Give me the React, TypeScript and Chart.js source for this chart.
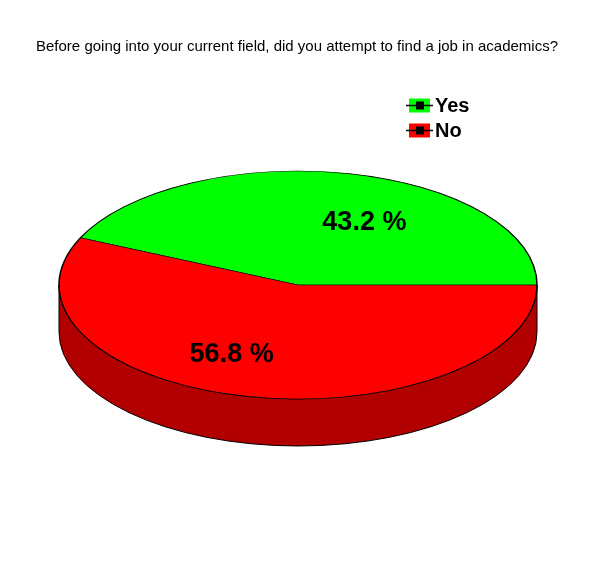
import React, { useEffect, useRef } from "react";
import { Chart, registerables } from "chart.js";

Chart.register(...registerables);

const TITLE = "Before going into your current field, did you attempt to find a job in academics?";
const LABELS = ["Yes", "No"];
const VALUES = [43.2, 56.8];
const TOP_COLORS = ["#00FF00", "#FF0000"];
const SIDE_COLORS = ["#00B200", "#B20000"];

const W = 596;
const H = 572;
const RX = 239;
const RY = 114;
const DEPTH = 47;

const pie3dPlugin = {
  id: "pie3d",
  beforeDatasetsDraw(chart: any) {
    const ctx = chart.ctx as CanvasRenderingContext2D;
    const meta = chart.getDatasetMeta(0);
    const arcs = meta.data;
    if (!arcs.length) return;
    const cx = arcs[0].x;
    const cy = arcs[0].y;
    // draw side walls
    arcs.forEach((arc: any, i: number) => {
      const s = arc.startAngle;
      const e = arc.endAngle;
      for (const k of [-2, 0, 2]) {
        const lo = Math.max(s, k * Math.PI);
        const hi = Math.min(e, k * Math.PI + Math.PI);
        if (hi > lo) {
          ctx.save();
          ctx.beginPath();
          ctx.ellipse(cx, cy, RX, RY, 0, lo, hi, false);
          ctx.lineTo(cx + RX * Math.cos(hi), cy + RY * Math.sin(hi) + DEPTH);
          ctx.ellipse(cx, cy + DEPTH, RX, RY, 0, hi, lo, true);
          ctx.closePath();
          ctx.fillStyle = SIDE_COLORS[i];
          ctx.fill();
          ctx.strokeStyle = "#000";
          ctx.lineWidth = 1;
          ctx.stroke();
          ctx.restore();
        }
      }
    });
    ctx.save();
    ctx.translate(cx, cy);
    ctx.scale(1, RY / RX);
    ctx.translate(-cx, -cy);
  },
  afterDatasetsDraw(chart: any) {
    const ctx = chart.ctx as CanvasRenderingContext2D;
    const meta = chart.getDatasetMeta(0);
    const arcs = meta.data;
    if (!arcs.length) return;
    ctx.restore();
    const cx = arcs[0].x;
    const cy = arcs[0].y;
    const total = VALUES.reduce((a, b) => a + b, 0);
    // percentage labels
    ctx.save();
    ctx.fillStyle = "#000";
    ctx.font = "bold 27px 'Liberation Sans', Arial, sans-serif";
    ctx.textAlign = "center";
    ctx.textBaseline = "middle";
    arcs.forEach((arc: any, i: number) => {
      const mid = (arc.startAngle + arc.endAngle) / 2;
      const x = cx + Math.cos(mid) * RX * 1.31;
      const y = cy + Math.sin(mid) * RY * 0.595 + 3.5;
      ctx.fillText(((VALUES[i] / total) * 100).toFixed(1) + " %", x, y);
    });
    ctx.restore();
  },
  afterDraw(chart: any) {
    const ctx = chart.ctx as CanvasRenderingContext2D;
    ctx.save();
    // title
    ctx.fillStyle = "#000";
    ctx.font = "15px 'Liberation Sans', Arial, sans-serif";
    ctx.textAlign = "center";
    ctx.textBaseline = "middle";
    ctx.fillText(TITLE, 297, 47);
    // legend
    ctx.font = "bold 20px 'Liberation Sans', Arial, sans-serif";
    ctx.textAlign = "left";
    LABELS.forEach((lab, i) => {
      const y = 105.5 + i * 25;
      ctx.fillStyle = TOP_COLORS[i];
      ctx.fillRect(409, y - 7, 21, 14);
      ctx.strokeStyle = "#000";
      ctx.lineWidth = 1.5;
      ctx.beginPath();
      ctx.moveTo(406, y);
      ctx.lineTo(433, y);
      ctx.stroke();
      ctx.fillStyle = "#000";
      ctx.fillRect(416, y - 4, 8, 8);
      ctx.fillText(lab, 435, y + 1);
    });
    ctx.restore();
  },
};

export default function App() {
  const ref = useRef<HTMLCanvasElement | null>(null);
  useEffect(() => {
    if (!ref.current) return;
    const total = VALUES.reduce((a, b) => a + b, 0);
    const chart = new Chart(ref.current, {
      type: "pie",
      data: {
        labels: LABELS,
        datasets: [
          {
            data: VALUES,
            backgroundColor: TOP_COLORS,
            borderColor: "#000",
            borderWidth: 1.5,
            radius: RX,
          } as any,
        ],
      },
      options: {
        responsive: false,
        animation: false,
        events: [],
        rotation: 90 - (360 * VALUES[0]) / total,
        layout: { padding: { left: 10, right: 10, top: 10, bottom: 12 } },
        plugins: {
          legend: { display: false },
          title: { display: false },
          tooltip: { enabled: false },
        },
      } as any,
      plugins: [pie3dPlugin],
    });
    return () => chart.destroy();
  }, []);
  return (
    <div style={{ position: "absolute", left: 0, top: 0, width: W, height: H, background: "#fff" }}>
      <canvas ref={ref} width={W} height={H} />
    </div>
  );
}
